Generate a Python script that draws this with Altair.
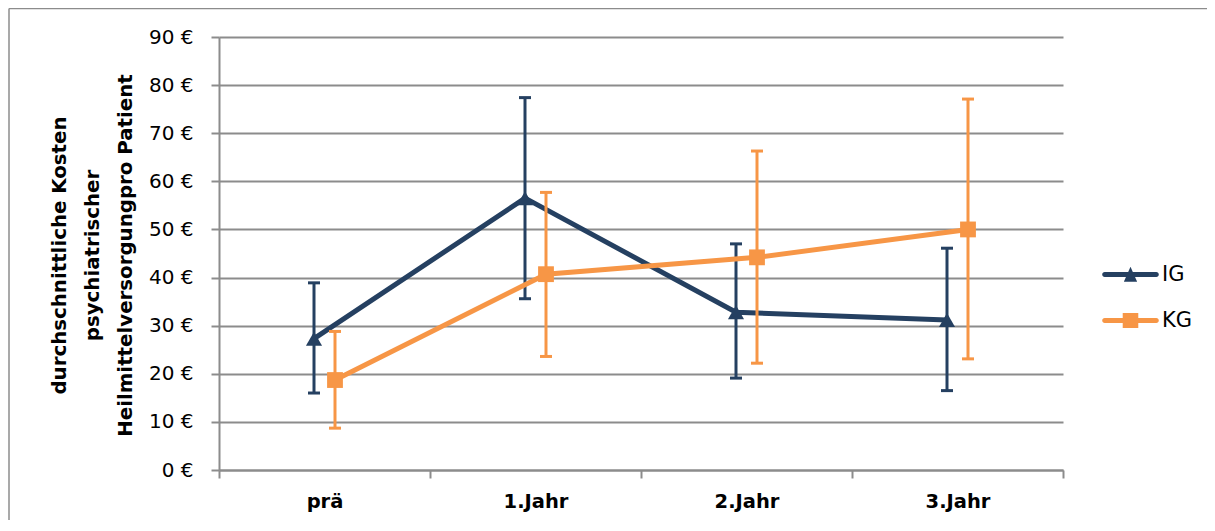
import altair as alt
import pandas as pd

categories = ["prä", "1.Jahr", "2.Jahr", "3.Jahr"]
series_names = ["IG", "KG"]
ig_mean = [27.3, 56.5, 32.8, 31.2]
ig_upper = [38.9, 77.4, 47.0, 46.1]
ig_lower = [16.0, 35.6, 19.1, 16.5]
kg_mean = [18.7, 40.7, 44.2, 50.0]
kg_upper = [28.8, 57.7, 66.3, 77.1]
kg_lower = [8.7, 23.6, 22.2, 23.1]
series_colors = ["#254061", "#F79646"]
series_markers = ["triangle-up", "square"]
marker_sizes = [260, 250]
y_ticks = [0, 10, 20, 30, 40, 50, 60, 70, 80, 90]
y_title = ["durchschnittliche Kosten", "psychiatrischer", "Heilmittelversorgungpro Patient"]

rows = []
for name, means, ups, lows in (("IG", ig_mean, ig_upper, ig_lower),
                               ("KG", kg_mean, kg_upper, kg_lower)):
    for cat, m, u, l in zip(categories, means, ups, lows):
        rows.append({"Zeitpunkt": cat, "Gruppe": name, "Kosten": m, "oben": u, "unten": l})
df = pd.DataFrame(rows)

GRID = "#8c8c8c"
FONT = "DejaVu Sans"

x_enc = alt.X(
    "Zeitpunkt:N", sort=categories,
    scale=alt.Scale(paddingInner=0, paddingOuter=0),
    axis=alt.Axis(title=None, labelAngle=0, tickBand="extent", ticks=True, tickSize=8,
                  tickWidth=2, tickColor=GRID, domainColor=GRID, domainWidth=2,
                  labelFont=FONT, labelFontSize=19.5, labelFontWeight="bold",
                  labelColor="black", labelPadding=14, labelBaseline="top", grid=False),
)
xo_enc = alt.XOffset("Gruppe:N", scale=alt.Scale(domain=series_names, range=[84.5, 126.5],
                                                 paddingInner=0, paddingOuter=0))
y_scale = alt.Scale(domain=[0, 90], nice=False)
y_axis = alt.Axis(values=y_ticks, labelExpr="datum.value + ' €'", title=y_title,
                  titleAngle=270, titleX=-154, titleY=218, titleAlign="center",
                  titleBaseline="alphabetic", titleLineHeight=33, titleFont=FONT,
                  titleFontSize=19.8, titleFontWeight="bold", titleColor="black",
                  labelFont=FONT, labelFontSize=20, labelColor="black", labelPadding=18,
                  tickSize=8, tickWidth=2, tickColor=GRID, domainColor=GRID, domainWidth=2,
                  gridColor=GRID, gridWidth=2)
color_scale = alt.Scale(domain=series_names, range=series_colors)

line_part = ("M-0.912,-0.088L0.912,-0.088A0.088,0.088 0 0 1 0.912,0.088"
             "L-0.912,0.088A0.088,0.088 0 0 1 -0.912,-0.088Z")
ig_sym = line_part + "M-0.235,0.26L0,-0.27L0.235,0.26Z"
kg_sym = line_part + "M-0.275,-0.265L0.275,-0.265L0.275,0.265L-0.275,0.265Z"

legend = alt.Legend(
    title=None, orient="none", legendX=883, legendY=209, padding=0,
    symbolSize=3204, symbolStrokeWidth=0, symbolOpacity=1,
    labelFont=FONT, labelFontSize=21, labelColor="black",
    labelOffset=3, rowPadding=7,
)

base = alt.Chart(df).encode(x=x_enc, xOffset=xo_enc)

layers = []
frame_data = alt.Data(values=[{}])
frame_top = alt.Chart(frame_data).mark_rule(stroke="#8c8c8c", strokeWidth=1.5).encode(
    x=alt.value(-210), x2=alt.value(3000), y=alt.value(-28.5))
frame_left = alt.Chart(frame_data).mark_rule(stroke="#8c8c8c", strokeWidth=1.5).encode(
    x=alt.value(-210), y=alt.value(-28.5), y2=alt.value(3000))
layers += [frame_top, frame_left]

legend_layer = base.transform_filter("false").mark_point(filled=True, opacity=1).encode(
    y=alt.Y("Kosten:Q", scale=y_scale, axis=y_axis),
    color=alt.Color("Gruppe:N", scale=color_scale, legend=legend),
    shape=alt.Shape("Gruppe:N", scale=alt.Scale(domain=series_names, range=[ig_sym, kg_sym]),
                    legend=legend),
)
layers.append(legend_layer)

for name, col, marker, msize in zip(series_names, series_colors, series_markers, marker_sizes):
    sb = base.transform_filter(alt.datum.Gruppe == name)
    layers.append(sb.mark_rule(strokeWidth=3, color=col).encode(
        y=alt.Y("unten:Q", scale=y_scale), y2="oben:Q"))
    layers.append(sb.mark_tick(size=12, thickness=3, opacity=1, color=col).encode(
        y=alt.Y("oben:Q", scale=y_scale)))
    layers.append(sb.mark_tick(size=12, thickness=3, opacity=1, color=col).encode(
        y=alt.Y("unten:Q", scale=y_scale)))
    layers.append(sb.mark_line(strokeWidth=5, color=col).encode(
        y=alt.Y("Kosten:Q", scale=y_scale)))
    layers.append(sb.mark_point(shape=marker, filled=True, size=msize, opacity=1, color=col).encode(
        y=alt.Y("Kosten:Q", scale=y_scale)))

chart = alt.layer(*layers).properties(
    width=844, height=433,
    padding={"left": 211, "top": 29, "right": 144, "bottom": 50},
    autosize=alt.AutoSizeParams(type="none"),
).configure_view(strokeWidth=0)

chart.save("out.html", embed_options={"renderer": "svg", "actions": False})
